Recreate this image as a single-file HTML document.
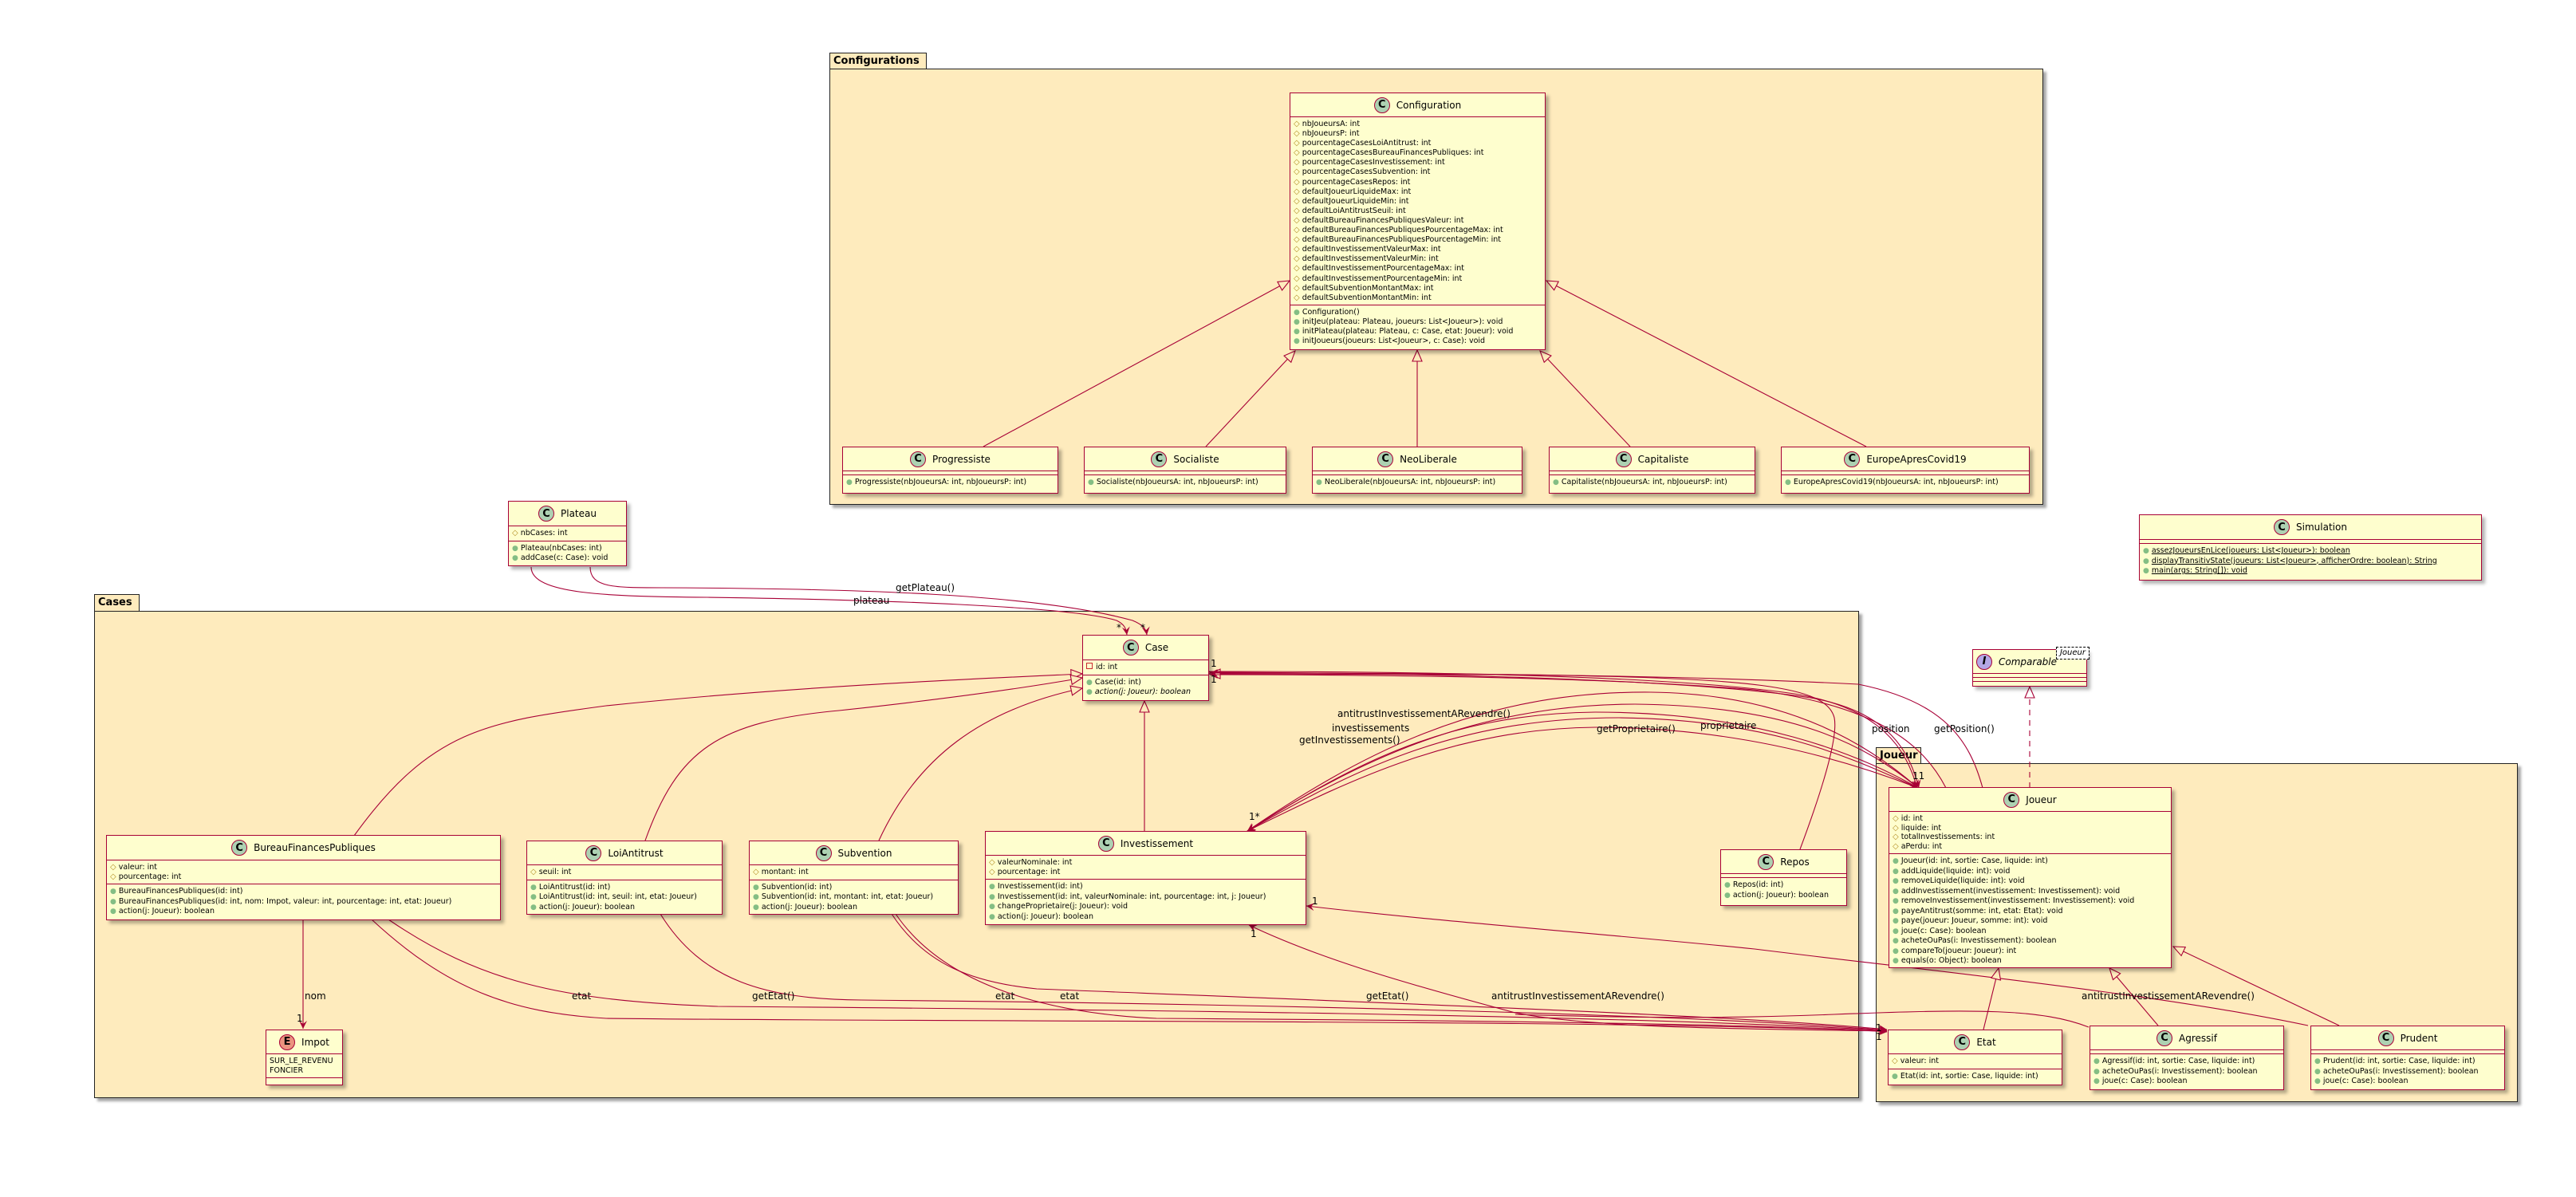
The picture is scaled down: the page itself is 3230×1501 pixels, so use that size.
<!DOCTYPE html>
<html><head><meta charset="utf-8">
<style>
html,body{margin:0;padding:0;background:#fff;}
body{width:3230px;height:1501px;position:relative;overflow:hidden;font-family:"DejaVu Sans","Liberation Sans",sans-serif;}
.pkg{position:absolute;background:#FEEBBD;border:1.5px solid #222;box-sizing:border-box;box-shadow:4px 4px 3px rgba(0,0,0,.35);}
.tab{position:absolute;background:#FEEBBD;border:1.5px solid #222;border-bottom:none;box-sizing:border-box;font-weight:bold;font-size:13px;padding:2px 4px;line-height:16px;}
.cls{position:absolute;background:#FEFECE;border:1.5px solid #A80036;box-sizing:border-box;box-shadow:4px 4px 4px rgba(0,0,0,.3);font-size:9.5px;color:#000;overflow:hidden;}
.hd{display:flex;align-items:center;justify-content:center;font-size:12px;border-bottom:1.5px solid #A80036;box-sizing:border-box;}
.ic{width:20px;height:20px;border-radius:50%;border:1px solid #A80036;background:#ADD1B2;display:inline-flex;align-items:center;justify-content:center;font-weight:bold;font-size:13px;margin-right:8px;box-sizing:border-box;}
.sec{padding:3px 4px;line-height:11.6px;white-space:nowrap;border-bottom:1.5px solid #A80036;box-sizing:border-box;}
.sec:last-child{border-bottom:none;}
.em{height:5px;padding:0;}
.p{color:#84BE84;font-size:9px;margin-right:3px;}
.d{color:#B38D22;font-size:10px;margin-right:3px;}
.r{display:inline-block;width:6px;height:6px;border:1px solid #C82930;margin-right:4px;vertical-align:0px;}
.u{text-decoration:underline;}
.lbl{position:absolute;font-size:12px;white-space:nowrap;line-height:13px;}
</style></head><body>

<div class="tab" style="left:1040px;top:66px;width:122px;height:22px;">Configurations</div>
<div class="pkg" style="left:1040px;top:86px;width:1522px;height:547px;"></div>
<div class="tab" style="left:118px;top:745px;width:57px;height:23px;">Cases</div>
<div class="pkg" style="left:118px;top:766px;width:2213px;height:611px;"></div>
<div class="tab" style="left:2352px;top:937px;width:57px;height:22px;">Joueur</div>
<div class="pkg" style="left:2352px;top:957px;width:805px;height:425px;"></div>

<svg width="3230" height="1501" style="position:absolute;left:0;top:0;z-index:1" fill="none" stroke="#A80036" stroke-width="1.1">
<defs>
<marker id="a" markerUnits="userSpaceOnUse" markerWidth="12" markerHeight="10" refX="10" refY="5" orient="auto"><path d="M0,0 L10,5 L0,10 L4,5 z" fill="#A80036" stroke="none"/></marker>
<marker id="t" markerUnits="userSpaceOnUse" markerWidth="16" markerHeight="14" refX="15" refY="7" orient="auto"><path d="M1,1 L15,7 L1,13 z" fill="#FEEBBD" stroke="#A80036"/></marker>
<marker id="tw" markerUnits="userSpaceOnUse" markerWidth="16" markerHeight="14" refX="15" refY="7" orient="auto"><path d="M1,1 L15,7 L1,13 z" fill="#fff" stroke="#A80036"/></marker>
</defs>
<path d="M1233,560 L1617,352" marker-end="url(#t)"/>
<path d="M1512,560 L1624,440" marker-end="url(#t)"/>
<path d="M1777,560 L1777,439" marker-end="url(#t)"/>
<path d="M2044,560 L1931,440" marker-end="url(#t)"/>
<path d="M2340,560 L1939,352" marker-end="url(#t)"/>
<path d="M666,711 C666,745 760,748 887,749 C1100,752 1340,760 1400,778 C1410,783 1412,788 1413,796" marker-end="url(#a)"/>
<path d="M740,711 C740,737 770,737 830,737 C1080,738 1300,745 1420,778 C1432,783 1437,788 1438,796" marker-end="url(#a)"/>
<path d="M444,1048 C540,915 610,905 760,885 C1000,860 1250,850 1357,845" marker-end="url(#t)"/>
<path d="M809,1054 C850,940 900,905 1052,891 C1200,875 1300,860 1357,850" marker-end="url(#t)"/>
<path d="M1102,1054 C1150,950 1230,890 1357,863" marker-end="url(#t)"/>
<path d="M1435,1042 L1435,879" marker-end="url(#t)"/>
<path d="M2257,1065 C2285,990 2305,925 2300,900 C2290,860 2200,850 1900,846 L1516,845" marker-end="url(#t)"/>
<path d="M380,1153 L380,1290" marker-end="url(#a)"/>
<path d="M466,1153 C560,1240 640,1270 760,1277 C1200,1282 2000,1278 2366,1293" marker-end="url(#a)"/>
<path d="M487,1153 C600,1230 700,1255 900,1262 C1400,1266 2000,1272 2366,1292" marker-end="url(#a)"/>
<path d="M828,1146 C880,1230 960,1253 1080,1254 C1500,1258 2100,1270 2366,1292" marker-end="url(#a)"/>
<path d="M1118,1146 C1160,1210 1220,1232 1300,1240 C1800,1260 2200,1275 2366,1291" marker-end="url(#a)"/>
<path d="M1123,1146 C1180,1230 1300,1270 1450,1277 C1900,1280 2250,1285 2366,1294" marker-end="url(#a)"/>
<path d="M2366,1293 C2200,1290 2000,1290 1900,1270 C1750,1230 1650,1200 1566,1160" marker-end="url(#a)"/>
<path d="M2619,1288 C2560,1265 2480,1265 2300,1272 C2200,1276 2100,1278 1900,1272"/>
<path d="M2894,1286 C2700,1245 2400,1215 2200,1190 C2000,1170 1800,1155 1638,1136" marker-end="url(#a)"/>
<path d="M2405,988 C2350,940 2250,870 2070,868 C1850,866 1700,950 1564,1042" marker-end="url(#a)"/>
<path d="M1564,1042 C1700,955 1850,883 2050,883 C2250,885 2340,935 2405,988" marker-end="url(#a)"/>
<path d="M2405,988 C2330,945 2200,893 2000,893 C1800,895 1680,970 1564,1042" marker-end="url(#a)"/>
<path d="M1564,1042 C1690,970 1820,900 2030,900 C2220,902 2320,950 2405,988" marker-end="url(#a)"/>
<path d="M2405,988 C2320,955 2180,912 2000,912 C1820,914 1690,980 1564,1042" marker-end="url(#a)"/>
<path d="M1516,842 C1800,842 2100,848 2250,870 C2360,888 2390,940 2404,988" marker-end="url(#a)"/>
<path d="M1516,843 C1800,844 2120,852 2270,875 C2370,892 2395,945 2406,988" marker-end="url(#a)"/>
<path d="M2440,988 C2410,930 2350,885 2200,865 C2000,848 1700,846 1517,846" marker-end="url(#a)"/>
<path d="M2486,988 C2470,930 2440,880 2330,858 C2100,846 1800,844 1517,844" marker-end="url(#a)"/>
<path d="M2545,988 L2545,861" stroke-dasharray="7,6" marker-end="url(#tw)"/>
<path d="M2487,1291 L2506,1214" marker-end="url(#t)"/>
<path d="M2706,1286 L2645,1214" marker-end="url(#t)"/>
<path d="M2933,1286 L2725,1187" marker-end="url(#t)"/>
</svg>

<div style="position:absolute;left:0;top:0;z-index:2;">
<div class="lbl" style="left:1123px;top:731px;">getPlateau()</div>
<div class="lbl" style="left:1070px;top:747px;">plateau</div>
<div class="lbl" style="left:1400px;top:781px;">*</div>
<div class="lbl" style="left:1430px;top:781px;">*</div>
<div class="lbl" style="left:1518px;top:826px;">1</div>
<div class="lbl" style="left:1518px;top:846px;">1</div>
<div class="lbl" style="left:382px;top:1243px;">nom</div>
<div class="lbl" style="left:372px;top:1271px;">1</div>
<div class="lbl" style="left:717px;top:1243px;">etat</div>
<div class="lbl" style="left:943px;top:1243px;">getEtat()</div>
<div class="lbl" style="left:1248px;top:1243px;">etat</div>
<div class="lbl" style="left:1329px;top:1243px;">etat</div>
<div class="lbl" style="left:1713px;top:1243px;">getEtat()</div>
<div class="lbl" style="left:1870px;top:1243px;">antitrustInvestissementARevendre()</div>
<div class="lbl" style="left:2610px;top:1243px;">antitrustInvestissementARevendre()</div>
<div class="lbl" style="left:1568px;top:1165px;">1</div>
<div class="lbl" style="left:1645px;top:1124px;">1</div>
<div class="lbl" style="left:2352px;top:1283px;">1</div>
<div class="lbl" style="left:2352px;top:1294px;">1</div>
<div class="lbl" style="left:1677px;top:889px;">antitrustInvestissementARevendre()</div>
<div class="lbl" style="left:1670px;top:907px;">investissements</div>
<div class="lbl" style="left:1629px;top:922px;">getInvestissements()</div>
<div class="lbl" style="left:2002px;top:908px;">getProprietaire()</div>
<div class="lbl" style="left:2132px;top:904px;">proprietaire</div>
<div class="lbl" style="left:2347px;top:908px;">position</div>
<div class="lbl" style="left:2425px;top:908px;">getPosition()</div>
<div class="lbl" style="left:1566px;top:1018px;">1*</div>
<div class="lbl" style="left:2398px;top:967px;">11</div>

<div class="cls" style="left:1617px;top:116px;width:321px;height:323px;">
<div class="hd" style="height:30px;"><span class="ic">C</span>Configuration</div>
<div class="sec" style="height:236px;line-height:12.1px;">
<div><span class="d">◇</span>nbJoueursA: int</div><div><span class="d">◇</span>nbJoueursP: int</div>
<div><span class="d">◇</span>pourcentageCasesLoiAntitrust: int</div><div><span class="d">◇</span>pourcentageCasesBureauFinancesPubliques: int</div>
<div><span class="d">◇</span>pourcentageCasesInvestissement: int</div><div><span class="d">◇</span>pourcentageCasesSubvention: int</div>
<div><span class="d">◇</span>pourcentageCasesRepos: int</div><div><span class="d">◇</span>defaultJoueurLiquideMax: int</div>
<div><span class="d">◇</span>defaultJoueurLiquideMin: int</div><div><span class="d">◇</span>defaultLoiAntitrustSeuil: int</div>
<div><span class="d">◇</span>defaultBureauFinancesPubliquesValeur: int</div><div><span class="d">◇</span>defaultBureauFinancesPubliquesPourcentageMax: int</div>
<div><span class="d">◇</span>defaultBureauFinancesPubliquesPourcentageMin: int</div><div><span class="d">◇</span>defaultInvestissementValeurMax: int</div>
<div><span class="d">◇</span>defaultInvestissementValeurMin: int</div><div><span class="d">◇</span>defaultInvestissementPourcentageMax: int</div>
<div><span class="d">◇</span>defaultInvestissementPourcentageMin: int</div><div><span class="d">◇</span>defaultSubventionMontantMax: int</div>
<div><span class="d">◇</span>defaultSubventionMontantMin: int</div>
</div>
<div class="sec" style="line-height:12.1px;">
<div><span class="p">●</span>Configuration()</div><div><span class="p">●</span>initJeu(plateau: Plateau, joueurs: List&lt;Joueur&gt;): void</div>
<div><span class="p">●</span>initPlateau(plateau: Plateau, c: Case, etat: Joueur): void</div><div><span class="p">●</span>initJoueurs(joueurs: List&lt;Joueur&gt;, c: Case): void</div>
</div></div>

<div class="cls" style="left:1056px;top:560px;width:271px;height:59px;"><div class="hd" style="height:30px;"><span class="ic">C</span>Progressiste</div><div class="sec em"></div><div class="sec"><span class="p">●</span>Progressiste(nbJoueursA: int, nbJoueursP: int)</div></div>
<div class="cls" style="left:1359px;top:560px;width:254px;height:59px;"><div class="hd" style="height:30px;"><span class="ic">C</span>Socialiste</div><div class="sec em"></div><div class="sec"><span class="p">●</span>Socialiste(nbJoueursA: int, nbJoueursP: int)</div></div>
<div class="cls" style="left:1645px;top:560px;width:264px;height:59px;"><div class="hd" style="height:30px;"><span class="ic">C</span>NeoLiberale</div><div class="sec em"></div><div class="sec"><span class="p">●</span>NeoLiberale(nbJoueursA: int, nbJoueursP: int)</div></div>
<div class="cls" style="left:1942px;top:560px;width:259px;height:59px;"><div class="hd" style="height:30px;"><span class="ic">C</span>Capitaliste</div><div class="sec em"></div><div class="sec"><span class="p">●</span>Capitaliste(nbJoueursA: int, nbJoueursP: int)</div></div>
<div class="cls" style="left:2233px;top:560px;width:312px;height:59px;"><div class="hd" style="height:30px;"><span class="ic">C</span>EuropeApresCovid19</div><div class="sec em"></div><div class="sec"><span class="p">●</span>EuropeApresCovid19(nbJoueursA: int, nbJoueursP: int)</div></div>

<div class="cls" style="left:637px;top:628px;width:149px;height:82px;"><div class="hd" style="height:31px;"><span class="ic">C</span>Plateau</div><div class="sec"><span class="d">◇</span>nbCases: int</div><div class="sec"><div><span class="p">●</span>Plateau(nbCases: int)</div><div><span class="p">●</span>addCase(c: Case): void</div></div></div>

<div class="cls" style="left:2682px;top:645px;width:430px;height:83px;"><div class="hd" style="height:31px;"><span class="ic">C</span>Simulation</div><div class="sec em"></div><div class="sec"><div><span class="p">●</span><span class="u">assezJoueursEnLice(joueurs: List&lt;Joueur&gt;): boolean</span></div><div><span class="p">●</span><span class="u">displayTransitivState(joueurs: List&lt;Joueur&gt;, afficherOrdre: boolean): String</span></div><div><span class="p">●</span><span class="u">main(args: String[]): void</span></div></div></div>

<div class="cls" style="left:2473px;top:814px;width:144px;height:47px;overflow:visible;"><div class="hd" style="height:30px;justify-content:flex-start;padding-left:4px;font-style:italic;"><span class="ic" style="background:#B4A7E5;">I</span>Comparable</div><div class="sec em"></div><div class="sec em"></div>
<div style="position:absolute;left:104px;top:-4px;width:40px;height:14px;border:1px dashed #000;background:#fff;font-size:10px;font-style:italic;line-height:13px;text-align:center;">Joueur</div></div>

<div class="cls" style="left:1357px;top:796px;width:159px;height:83px;"><div class="hd" style="height:31px;"><span class="ic">C</span>Case</div><div class="sec"><span class="r"></span>id: int</div><div class="sec"><div><span class="p">●</span>Case(id: int)</div><div><span class="p">●</span><i>action(j: Joueur): boolean</i></div></div></div>

<div class="cls" style="left:133px;top:1047px;width:495px;height:107px;"><div class="hd" style="height:31px;"><span class="ic">C</span>BureauFinancesPubliques</div><div class="sec"><div><span class="d">◇</span>valeur: int</div><div><span class="d">◇</span>pourcentage: int</div></div><div class="sec"><div><span class="p">●</span>BureauFinancesPubliques(id: int)</div><div><span class="p">●</span>BureauFinancesPubliques(id: int, nom: Impot, valeur: int, pourcentage: int, etat: Joueur)</div><div><span class="p">●</span>action(j: Joueur): boolean</div></div></div>

<div class="cls" style="left:660px;top:1054px;width:246px;height:93px;"><div class="hd" style="height:30px;"><span class="ic">C</span>LoiAntitrust</div><div class="sec"><span class="d">◇</span>seuil: int</div><div class="sec"><div><span class="p">●</span>LoiAntitrust(id: int)</div><div><span class="p">●</span>LoiAntitrust(id: int, seuil: int, etat: Joueur)</div><div><span class="p">●</span>action(j: Joueur): boolean</div></div></div>

<div class="cls" style="left:939px;top:1054px;width:263px;height:93px;"><div class="hd" style="height:30px;"><span class="ic">C</span>Subvention</div><div class="sec"><span class="d">◇</span>montant: int</div><div class="sec"><div><span class="p">●</span>Subvention(id: int)</div><div><span class="p">●</span>Subvention(id: int, montant: int, etat: Joueur)</div><div><span class="p">●</span>action(j: Joueur): boolean</div></div></div>

<div class="cls" style="left:1235px;top:1042px;width:403px;height:118px;"><div class="hd" style="height:30px;"><span class="ic">C</span>Investissement</div><div class="sec"><div><span class="d">◇</span>valeurNominale: int</div><div><span class="d">◇</span>pourcentage: int</div></div><div class="sec"><div><span class="p">●</span>Investissement(id: int)</div><div><span class="p">●</span>Investissement(id: int, valeurNominale: int, pourcentage: int, j: Joueur)</div><div><span class="p">●</span>changeProprietaire(j: Joueur): void</div><div><span class="p">●</span>action(j: Joueur): boolean</div></div></div>

<div class="cls" style="left:333px;top:1291px;width:97px;height:70px;"><div class="hd" style="height:30px;"><span class="ic" style="background:#EB937F;">E</span>Impot</div><div class="sec" style="height:30px;"><div>SUR_LE_REVENU</div><div>FONCIER</div></div><div class="sec em"></div></div>

<div class="cls" style="left:2157px;top:1065px;width:159px;height:71px;"><div class="hd" style="height:30px;"><span class="ic">C</span>Repos</div><div class="sec em"></div><div class="sec"><div><span class="p">●</span>Repos(id: int)</div><div><span class="p">●</span>action(j: Joueur): boolean</div></div></div>

<div class="cls" style="left:2368px;top:987px;width:355px;height:227px;"><div class="hd" style="height:30px;"><span class="ic">C</span>Joueur</div><div class="sec" style="line-height:11.5px;"><div><span class="d">◇</span>id: int</div><div><span class="d">◇</span>liquide: int</div><div><span class="d">◇</span>totalInvestissements: int</div><div><span class="d">◇</span>aPerdu: int</div></div><div class="sec" style="line-height:11.5px;">
<div><span class="p">●</span>Joueur(id: int, sortie: Case, liquide: int)</div><div><span class="p">●</span>addLiquide(liquide: int): void</div><div><span class="p">●</span>removeLiquide(liquide: int): void</div><div><span class="p">●</span>addInvestissement(investissement: Investissement): void</div><div><span class="p">●</span>removeInvestissement(investissement: Investissement): void</div><div><span class="p">●</span>payeAntitrust(somme: int, etat: Etat): void</div><div><span class="p">●</span>paye(joueur: Joueur, somme: int): void</div><div><span class="p">●</span>joue(c: Case): boolean</div><div><span class="p">●</span>acheteOuPas(i: Investissement): boolean</div><div><span class="p">●</span>compareTo(joueur: Joueur): int</div><div><span class="p">●</span>equals(o: Object): boolean</div></div></div>

<div class="cls" style="left:2367px;top:1291px;width:219px;height:70px;"><div class="hd" style="height:30px;"><span class="ic">C</span>Etat</div><div class="sec"><span class="d">◇</span>valeur: int</div><div class="sec"><span class="p">●</span>Etat(id: int, sortie: Case, liquide: int)</div></div>

<div class="cls" style="left:2620px;top:1286px;width:244px;height:81px;"><div class="hd" style="height:30px;"><span class="ic">C</span>Agressif</div><div class="sec em"></div><div class="sec"><div><span class="p">●</span>Agressif(id: int, sortie: Case, liquide: int)</div><div><span class="p">●</span>acheteOuPas(i: Investissement): boolean</div><div><span class="p">●</span>joue(c: Case): boolean</div></div></div>

<div class="cls" style="left:2897px;top:1286px;width:244px;height:81px;"><div class="hd" style="height:30px;"><span class="ic">C</span>Prudent</div><div class="sec em"></div><div class="sec"><div><span class="p">●</span>Prudent(id: int, sortie: Case, liquide: int)</div><div><span class="p">●</span>acheteOuPas(i: Investissement): boolean</div><div><span class="p">●</span>joue(c: Case): boolean</div></div></div>
</div>
</body></html>
